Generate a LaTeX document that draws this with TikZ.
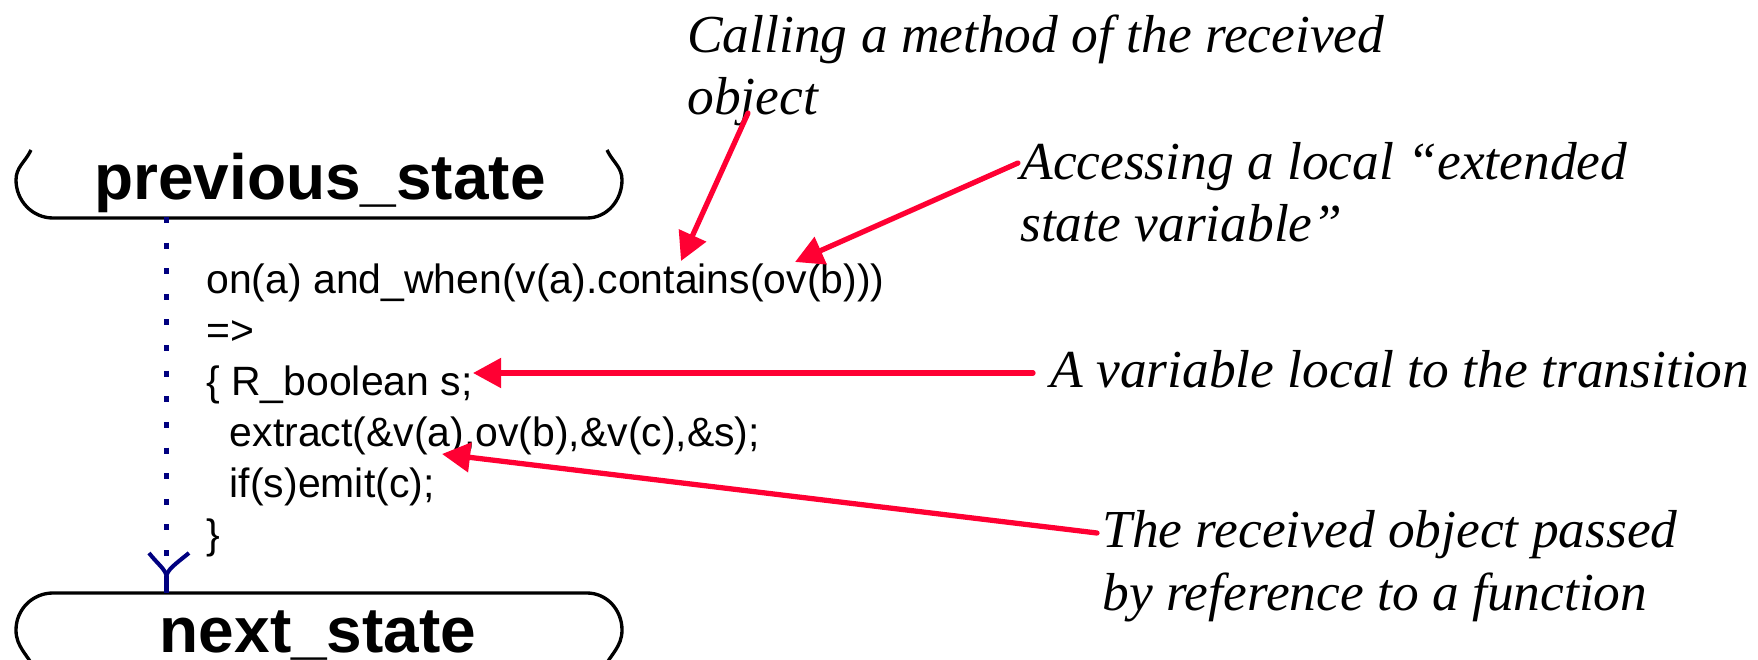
\documentclass[tikz,border=0pt]{standalone}
\usepackage{fontspec}
\setmainfont{Liberation Serif}
\setsansfont{Liberation Sans}
\usepackage{xcolor}
\usetikzlibrary{arrows.meta}
\definecolor{notered}{RGB}{255,0,51}
\definecolor{flownavy}{RGB}{0,0,128}

\begin{document}
\begin{tikzpicture}[
    state/.style={font=\sffamily\bfseries\fontsize{36.4}{40}\selectfont, inner sep=0pt, anchor=base},
    outline/.style={line width=1.9pt},
    code/.style={font=\sffamily\fontsize{23.3}{29}\selectfont, align=left, inner sep=0pt, anchor=base west},
    note/.style={font=\itshape\fontsize{30.4}{35.3}\selectfont, align=left, inner sep=0pt, anchor=base west},
    arr/.style={-{Triangle[length=16pt, width=16.5pt]}, notered, line width=3pt, line cap=round},
    flow/.style={flownavy, line width=3.4pt, dash pattern=on 3.41pt off 11.17pt}]

  \useasboundingbox (0,0) rectangle (35.16,-13.2);

  % the two states
  \draw[outline] (0.62,-3.0) to[out=-115,in=90] (0.32,-3.6) to[out=-90,in=180] (1.06,-4.36)
    -- (11.74,-4.36) to[out=0,in=-90] (12.44,-3.6) to[out=90,in=-65] (12.14,-3.0);
  \node[state] (prev) at (6.4,-4.0) {previous\_state};

  \draw[outline] (0.70,-13.4) to[out=115,in=-90] (0.32,-12.6) to[out=90,in=180] (1.06,-11.86)
    -- (11.74,-11.86) to[out=0,in=90] (12.44,-12.6) to[out=-90,in=65] (12.06,-13.4);
  \node[state] (next) at (6.36,-13.04) {next\_state};

  % transition
  \coordinate (src) at (3.33,-4.34);
  \coordinate (fork) at (3.33,-11.54);
  \coordinate (dst) at (3.33,-11.86);
  \coordinate (barbl) at (2.98,-11.06);
  \coordinate (barbr) at (3.78,-11.06);
  \draw[flow] (src) -- (fork);
  \draw[flownavy, line width=2.3pt] (barbl) .. controls (3.15,-11.28) and (3.33,-11.4) .. (fork);
  \draw[flownavy, line width=2.3pt] (barbr) .. controls (3.51,-11.28) and (3.33,-11.4) .. (fork);
  \draw[flownavy, line width=3.4pt] (fork) -- (dst);

  % base of a multi-line node is its last line
  \node[code] (body) at (4.12,-10.96)
    {on(a) and\_when(v(a).contains(ov(b)))\\
     =>\\
     \{ R\_boolean s;\\
     \hspace*{0.47cm}extract(\&v(a),ov(b),\&v(c),\&s);\\
     \hspace*{0.47cm}if(s)emit(c);\\
     \}};

  % remarks
  \node[note] (call) at (13.74,-2.3) {Calling a method of the received\\object};
  \node[note] (access) at (20.4,-4.84) {Accessing a local “extended\\state variable”};
  \node[note] (local) at (21.0,-7.76) {A variable local to the transition};
  \node[note] (byref) at (22.04,-12.2) {The received object passed\\by reference to a function};

  \coordinate (from1) at (14.96,-2.26);
  \coordinate (to1) at (13.62,-5.22);
  \coordinate (from2) at (20.36,-3.26);
  \coordinate (to2) at (15.9,-5.24);
  \coordinate (from3) at (20.66,-7.46);
  \coordinate (to3) at (9.46,-7.46);
  \coordinate (from4) at (21.94,-10.66);
  \coordinate (to4) at (8.84,-9.08);
  \draw[arr] (from1) -- (to1);
  \draw[arr] (from2) -- (to2);
  \draw[arr] (from3) -- (to3);
  \draw[arr] (from4) -- (to4);
\end{tikzpicture}
\end{document}
